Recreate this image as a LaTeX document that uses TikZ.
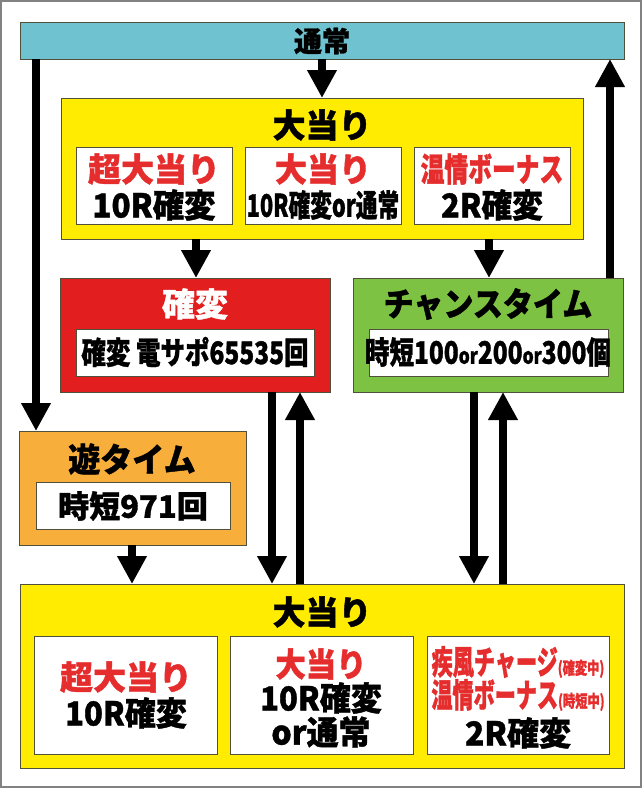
\documentclass[tikz,border=0pt]{standalone}
\usepackage{fontspec}
\newfontfamily\jp{Noto Sans CJK JP}[BoldFeatures={FakeBold=1.2}]
\usetikzlibrary{arrows.meta}
\definecolor{barc}{RGB}{111,195,208}
\definecolor{yel}{RGB}{255,236,0}
\definecolor{redbox}{RGB}{226,30,30}
\definecolor{grn}{RGB}{125,194,66}
\definecolor{org}{RGB}{247,174,58}
\definecolor{redtxt}{RGB}{230,45,45}
\definecolor{framec}{RGB}{130,130,130}
\definecolor{edgec}{RGB}{80,80,60}
\newcommand{\sx}[2]{\scalebox{#1}[1]{#2}}
\newcommand{\fsz}[1]{\fontsize{#1}{#1}\selectfont}
\begin{document}
\begin{tikzpicture}[x=1pt,y=-1pt,
 box/.style={draw=edgec,line width=0.8pt,anchor=north west,inner sep=0pt,outer sep=0pt},
 wbox/.style={box,fill=white},
 txt/.style={inner sep=0pt,font=\jp\bfseries\fsz{33}},
 stxt/.style={inner sep=0pt,font=\jp\bfseries\fsz{31}},
 rtxt/.style={txt,text=redtxt},
 arr/.style={line width=8pt,-{Triangle[width=28pt,length=28pt]}},
]
\useasboundingbox (0,0) rectangle (642,788);
\draw[framec,line width=2pt] (1,1) rectangle (641,787);
% columns
\coordinate (cL) at (36,0);
\coordinate (cR) at (610,0);
\coordinate (cK) at (196,0);
\coordinate (cC) at (489,0);
\coordinate (cKd) at (272,0);
\coordinate (cKu) at (300,0);
\coordinate (cCd) at (474,0);
\coordinate (cCu) at (503,0);
\coordinate (cY) at (132,0);
% top bar
\node[box,fill=barc,minimum width=604pt,minimum height=37pt] (tsujo) at (20,22) {};
\node[txt,font=\jp\bfseries\fsz{28}] (tsujoT) at (322,41) {通常};
% top big hit
\node[box,fill=yel,minimum width=522pt,minimum height=141pt] (bigA) at (61,98) {};
\node[txt] (bigAT) at (322,125) {大当り};
\node[wbox,minimum width=156pt,minimum height=77pt] (a1) at (76,147) {};
\node[wbox,minimum width=156pt,minimum height=77pt] (a2) at (245,147) {};
\node[wbox,minimum width=156pt,minimum height=77pt] (a3) at (414,147) {};
\node[rtxt] (a1a) at (154,169) {超大当り};
\node[txt] (a1b) at (154,205) {\sx{0.95}{10R確変}};
\node[rtxt] (a2a) at (323,169) {\sx{0.97}{大当り}};
\node[stxt] (a2b) at (323,205) {\sx{0.7}{10R確変or通常}};
\node[rtxt] (a3a) at (492,169) {\sx{0.72}{温情ボーナス}};
\node[txt] (a3b) at (492,205) {\sx{0.93}{2R確変}};
% kakuhen
\node[box,fill=redbox,minimum width=270pt,minimum height=114pt] (kak) at (60,278) {};
\node[txt,text=white] (kakT) at (195,304) {確変};
\node[wbox,minimum width=238pt,minimum height=47pt] (kakI) at (76,329) {};
\node[stxt] (kakIT) at (195,352) {\sx{0.79}{確変 電サポ65535回}};
% chance time
\node[box,fill=grn,minimum width=270pt,minimum height=114pt] (cha) at (353,278) {};
\node[txt] (chaT) at (488,304) {\sx{0.91}{チャンスタイム}};
\node[wbox,minimum width=239pt,minimum height=47pt] (chaI) at (369,329) {};
\node[stxt] (chaIT) at (488,352) {\sx{0.79}{時短100{\fsz{22}or}200{\fsz{22}or}300個}};
% yu time
\node[box,fill=org,minimum width=227pt,minimum height=114pt] (yu) at (19,431) {};
\node[txt] (yuT) at (132,459) {\sx{0.97}{遊タイム}};
\node[wbox,minimum width=194pt,minimum height=47pt] (yuI) at (36,482) {};
\node[stxt] (yuIT) at (133,506) {時短971回};
% bottom big hit
\node[box,fill=yel,minimum width=604pt,minimum height=184pt] (bigB) at (20,584) {};
\node[txt] (bigBT) at (322,612) {大当り};
\node[wbox,minimum width=183pt,minimum height=118pt] (b1) at (34,636) {};
\node[wbox,minimum width=183pt,minimum height=118pt] (b2) at (230,636) {};
\node[wbox,minimum width=182pt,minimum height=118pt] (b3) at (427,636) {};
\node[rtxt] (b1a) at (126,677) {超大当り};
\node[txt] (b1b) at (126,713) {\sx{0.94}{10R確変}};
\node[rtxt] (b2a) at (321,664) {\sx{0.92}{大当り}};
\node[txt] (b2b) at (321,698) {\sx{0.94}{10R確変}};
\node[txt] (b2c) at (321,732) {\sx{0.97}{or通常}};
\node[rtxt] (b3a) at (518,662) {\sx{0.64}{疾風チャージ}\sx{0.72}{\fsz{17}(確変中)}};
\node[rtxt] (b3b) at (518,695) {\sx{0.64}{温情ボーナス}\sx{0.72}{\fsz{17}(時短中)}};
\node[txt] (b3c) at (518,733) {\sx{0.97}{2R確変}};
% arrows
\draw[arr] (tsujo.south) -- (bigA.north);
\draw[arr] (tsujo.south -| cL) -- (yu.north -| cL);
\draw[arr] (cha.north -| cR) -- (tsujo.south -| cR);
\draw[arr] (bigA.south -| cK) -- (kak.north -| cK);
\draw[arr] (bigA.south -| cC) -- (cha.north -| cC);
\draw[arr] (kak.south -| cKd) -- (bigB.north -| cKd);
\draw[arr] (bigB.north -| cKu) -- (kak.south -| cKu);
\draw[arr] (cha.south -| cCd) -- (bigB.north -| cCd);
\draw[arr] (bigB.north -| cCu) -- (cha.south -| cCu);
\draw[arr] (yu.south -| cY) -- (bigB.north -| cY);
\end{tikzpicture}
\end{document}
